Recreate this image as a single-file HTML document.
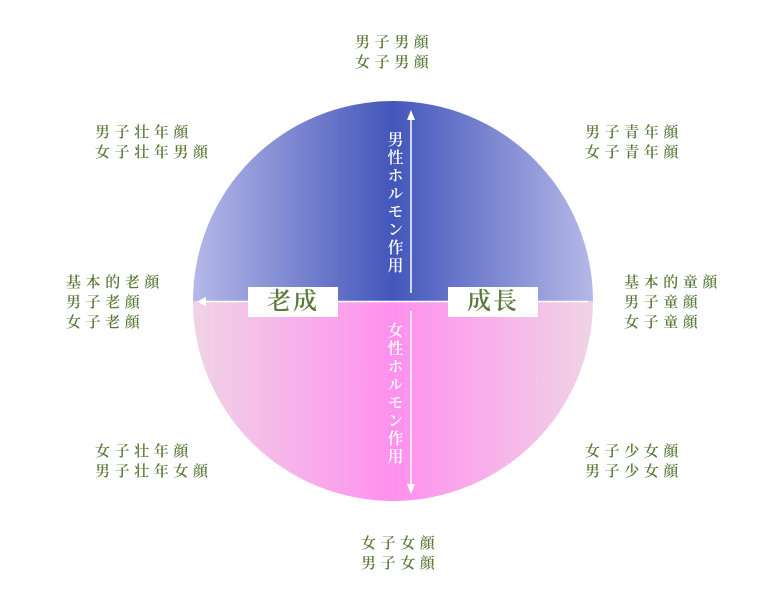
<!DOCTYPE html>
<html><head><meta charset="utf-8"><style>
body{margin:0;width:784px;height:610px;background:#fff;overflow:hidden;position:relative;font-family:"Liberation Serif","Noto Serif CJK SC",serif;}
.l{position:absolute;color:#5a7a38;font-size:15px;line-height:20px;letter-spacing:4.6px;white-space:nowrap;font-weight:600;}
.box{position:absolute;background:#fff;width:90px;height:30px;top:287px;color:#5a7a38;font-size:24px;line-height:30px;text-align:center;letter-spacing:2px;font-weight:600;}
.v{position:absolute;writing-mode:vertical-rl;color:#fff;font-size:16px;letter-spacing:2px;line-height:18px;font-weight:600;}
</style></head><body>
<svg width="784" height="610" style="position:absolute;left:0;top:0">
<defs>
<linearGradient id="t" x1="193" x2="593" gradientUnits="userSpaceOnUse">
<stop offset="0" stop-color="#b6b8e8"/><stop offset="0.5" stop-color="#4356ba"/><stop offset="1" stop-color="#b6b8e8"/></linearGradient>
<linearGradient id="b" x1="193" x2="593" gradientUnits="userSpaceOnUse">
<stop offset="0" stop-color="#f0d4e6"/><stop offset="0.5" stop-color="#ff90ee"/><stop offset="1" stop-color="#f0d4e6"/></linearGradient>
</defs>
<path d="M193 301 A200 200 0 0 1 593 301 Z" fill="url(#t)"/>
<path d="M193 301 A200 200 0 0 0 593 301 Z" fill="url(#b)"/>
<line x1="200" y1="301.5" x2="588" y2="301.5" stroke="#fff" stroke-width="1.5"/>
<path d="M197 301.5 L206 297 L206 306 Z" fill="#fff"/>
<line x1="411" y1="116" x2="411" y2="293" stroke="#fff" stroke-width="1.5"/>
<path d="M411 110 L407 120 L415 120 Z" fill="#fff"/>
<line x1="411" y1="311" x2="411" y2="488" stroke="#fff" stroke-width="1.5"/>
<path d="M411 494 L407 484 L415 484 Z" fill="#fff"/>
</svg>
<div class="box" style="left:248px">老成</div>
<div class="box" style="left:448px">成長</div>
<div class="v" style="left:384px;top:131px">男性ホルモン作用</div>
<div class="v" style="left:384px;top:322px">女性ホルモン作用</div>
<div class="l" style="left:355px;top:33px">男子男顔<br>女子男顔</div>
<div class="l" style="left:95px;top:123px">男子壮年顔<br>女子壮年男顔</div>
<div class="l" style="left:585px;top:123px">男子青年顔<br>女子青年顔</div>
<div class="l" style="left:66px;top:273px">基本的老顔<br>男子老顔<br>女子老顔</div>
<div class="l" style="left:624px;top:273px">基本的童顔<br>男子童顔<br>女子童顔</div>
<div class="l" style="left:95px;top:442px">女子壮年顔<br>男子壮年女顔</div>
<div class="l" style="left:585px;top:442px">女子少女顔<br>男子少女顔</div>
<div class="l" style="left:361px;top:534px">女子女顔<br>男子女顔</div>
</body></html>
